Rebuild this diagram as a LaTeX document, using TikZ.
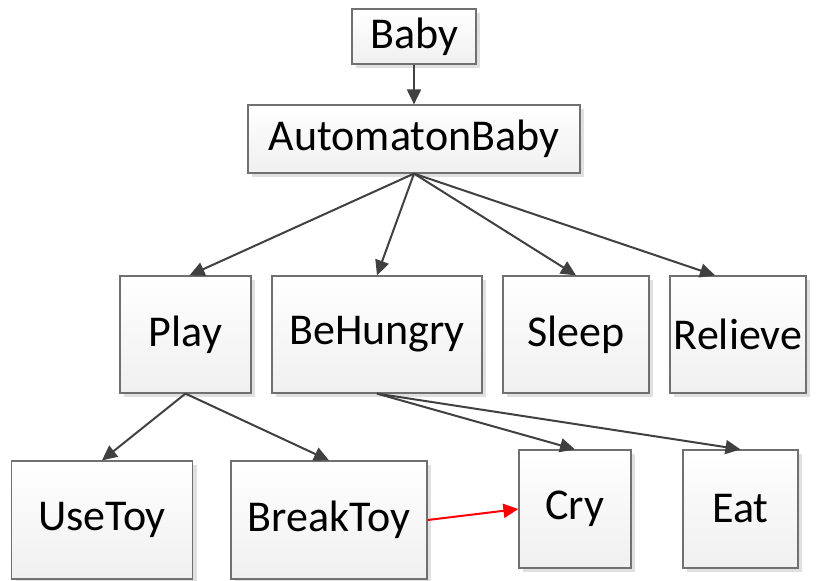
\documentclass[tikz,border=0pt]{standalone}
\usepackage{fontspec}
\setmainfont{Carlito}
\usetikzlibrary{arrows.meta, shadows}

\definecolor{linegray}{HTML}{404040}
\definecolor{boxgray}{HTML}{707070}

\tikzset{
  box/.style={draw=boxgray, line width=1.2pt, top color=white, bottom color=gray!12,
    drop shadow={shadow xshift=4pt, shadow yshift=-4pt, fill=gray!40, opacity=0.6},
    inner sep=0pt, font=\fontsize{44}{50}\selectfont},
  link/.style={draw=linegray, line width=2pt, -{Triangle[length=15pt, width=14pt]}},
  redlink/.style={link, draw=red, -{Triangle[length=15pt, width=14pt, fill=red]}}
}

\begin{document}
\begin{tikzpicture}[x=1pt, y=-1pt]

\useasboundingbox (0,0) rectangle (817,581);

\node[box, minimum width=124pt, minimum height=55pt] (baby) at (414,36.5) {Baby};
\node[box, minimum width=332pt, minimum height=68pt] (auto) at (414,139) {AutomatonBaby};

\node[box, minimum width=131pt, minimum height=117pt] (play) at (185.5,334.5) {Play};
\node[box, minimum width=210pt, minimum height=117pt] (hungry) at (377,334.5) {BeHungry};
\node[box, minimum width=146pt, minimum height=117pt] (sleep) at (576,334.5) {Sleep};
\node[box, minimum width=136pt, minimum height=117pt] (relieve) at (738,334.5) {Relieve};

\node[box, minimum width=181pt, minimum height=118pt] (usetoy) at (102,520) {UseToy};
\node[box, minimum width=196pt, minimum height=118pt] (breaktoy) at (329,520) {BreakToy};
\node[box, minimum width=112pt, minimum height=118pt] (cry) at (575,509) {Cry};
\node[box, minimum width=115pt, minimum height=118pt] (eat) at (740.5,509) {Eat};

\coordinate (relievetop) at ([xshift=-23pt]relieve.north);

\draw[link] (baby) -- (auto);

\draw[link] (auto.south) -- ([xshift=4pt]play.north);
\draw[link] (auto.south) -- (hungry.north);
\draw[link] (auto.south) -- (sleep.north);
\draw[link] (auto.south) -- (relievetop);

\draw[link] (play.south) -- (usetoy.north);
\draw[link] (play.south) -- (breaktoy.north);

\draw[link] (hungry.south) -- (cry.north);
\draw[link] (hungry.south) -- (eat.north);

\draw[redlink] (breaktoy.east) -- (cry.west);

\end{tikzpicture}
\end{document}
